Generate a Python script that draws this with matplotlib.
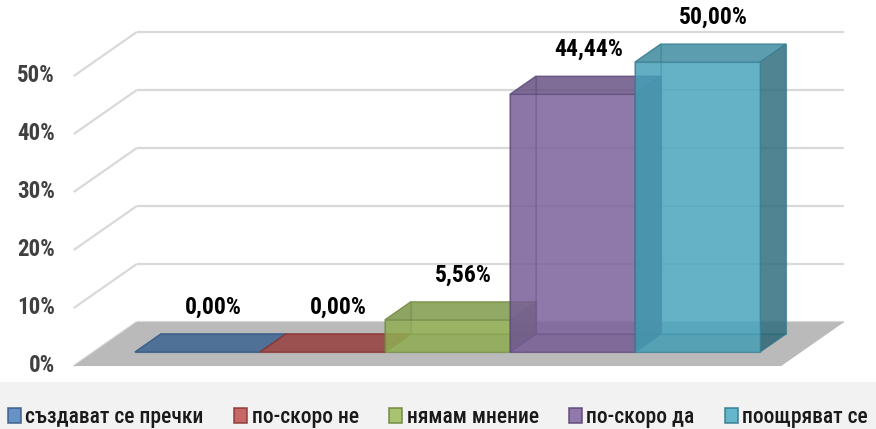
import matplotlib
matplotlib.use('Agg')
import matplotlib.pyplot as plt
from matplotlib.patches import Polygon, Patch, Rectangle
import matplotlib.colors as mcolors
from matplotlib import font_manager
import numpy as np

# ---------------- data ----------------
categories = ['създават се пречки', 'по-скоро не', 'нямам мнение', 'по-скоро да', 'поощряват се']
values = [0.0, 0.0, 5.56, 44.44, 50.0]
value_labels = ['0,00%', '0,00%', '5,56%', '44,44%', '50,00%']
colors = ['#4F81BD', '#C0504D', '#9BBB59', '#8064A2', '#4BACC6']
yticks = [0, 10, 20, 30, 40, 50]
ytick_labels = ['0%', '10%', '20%', '30%', '40%', '50%']

installed = {f.name for f in font_manager.fontManager.ttflist}
cands = ['Roboto Condensed', 'DejaVu Sans Condensed', 'Open Sans Condensed',
         'Liberation Sans Narrow', 'Noto Sans Condensed', 'Ubuntu Condensed']
found = [c for c in cands if c in installed]
FONT = found + ['DejaVu Sans']
plt.rcParams['font.family'] = FONT

W, H = 876, 429
fig = plt.figure(figsize=(W / 100, H / 100), dpi=100)
fig.patch.set_facecolor('white')

# legend band background
fig.add_artist(Rectangle((0, 0), 1, (H - 382) / H, transform=fig.transFigure,
                         facecolor='#f2f2f2', edgecolor='none', zorder=0))

ax = fig.add_axes([0, 0, 1, 1])
ax.patch.set_alpha(0)
px_per_cat, px_per_pct = 125.0, 5.8
x0_px, y0_px = 115.0, 63.0
ax.set_xlim(-x0_px / px_per_cat, (W - x0_px) / px_per_cat)
ax.set_ylim(-y0_px / px_per_pct, (H - y0_px) / px_per_pct)
ax.axis('off')

DX = 63.0 / px_per_cat
DY = 44.0 / px_per_pct


def P(x, v, d):
    return (x + d * DX, v + d * DY)


n = len(categories)
pad = 0.33
xl, xr = -pad, n + pad
d_front, d_back = 0.317, 0.73

# gridlines: back wall + left wall
for v in yticks:
    a, b = P(xl, v, 1), P(xr, v, 1)
    ax.plot([a[0], b[0]], [a[1], b[1]], color='#d9d9d9', lw=1.6, zorder=1,
            solid_capstyle='butt')
    a, b = P(xl, v, 0), P(xl, v, 1)
    ax.plot([a[0], b[0]], [a[1], b[1]], color='#d9d9d9', lw=1.6, zorder=1,
            solid_capstyle='butt')

# floor
ax.add_patch(Polygon([P(xl, 0, 0), P(xr, 0, 0), P(xr, 0, 1), P(xl, 0, 1)],
                     closed=True, facecolor='#bababa', edgecolor='none', zorder=2))

# tick labels
for v, lab in zip(yticks, ytick_labels):
    x, y = P(xl, v, 0)
    ax.text(x - 0.15, y, lab, ha='right', va='center', fontsize=16.5,
            fontweight='bold', color='#404040', zorder=5)


def shade(c, f):
    r, g, b = mcolors.to_rgb(c)
    return (r * f, g * f, b * f)


alpha = 0.6
z = 3
for i, (h, c) in enumerate(zip(values, colors)):
    x0, x1 = i, i + 1
    edge = shade(c, 0.72)
    faces = [
        ([P(x0, 0, d_back), P(x1, 0, d_back), P(x1, h, d_back), P(x0, h, d_back)], 0.85),  # back
        ([P(x0, 0, d_front), P(x0, 0, d_back), P(x0, h, d_back), P(x0, h, d_front)], 0.75),  # left
        ([P(x0, 0, d_front), P(x1, 0, d_front), P(x1, 0, d_back), P(x0, 0, d_back)], 0.70),  # bottom
        ([P(x1, 0, d_front), P(x1, 0, d_back), P(x1, h, d_back), P(x1, h, d_front)], 0.55),  # right
        ([P(x0, h, d_front), P(x1, h, d_front), P(x1, h, d_back), P(x0, h, d_back)], 0.80),  # top
        ([P(x0, 0, d_front), P(x1, 0, d_front), P(x1, h, d_front), P(x0, h, d_front)], 1.0),  # front
    ]
    for pts, f in faces:
        ax.add_patch(Polygon(pts, closed=True, facecolor=shade(c, f), alpha=alpha,
                             edgecolor=edge, lw=0.9, zorder=z))
        z += 0.01

# value labels
for i, (h, lab) in enumerate(zip(values, value_labels)):
    x, y = P(i + 0.42, h, d_back)
    ax.text(x, y + 4.6, lab, ha='center', va='center', fontsize=17,
            fontweight='bold', color='black', zorder=20)

# legend
handles = [Patch(facecolor=c, edgecolor=shade(c, 0.7), lw=1.2, alpha=0.85) for c in colors]
leg = fig.legend(handles, categories, ncol=n, loc='center',
                 bbox_to_anchor=(0.5, (H - 417) / H), frameon=False,
                 prop={'size': 15.5, 'weight': 'medium'},
                 handlelength=0.62, handleheight=0.72,
                 handletextpad=0.2, columnspacing=1.4, borderaxespad=0)
for t in leg.get_texts():
    t.set_color('#1a1a1a')

fig.savefig('out.png', dpi=100, facecolor=fig.get_facecolor())
